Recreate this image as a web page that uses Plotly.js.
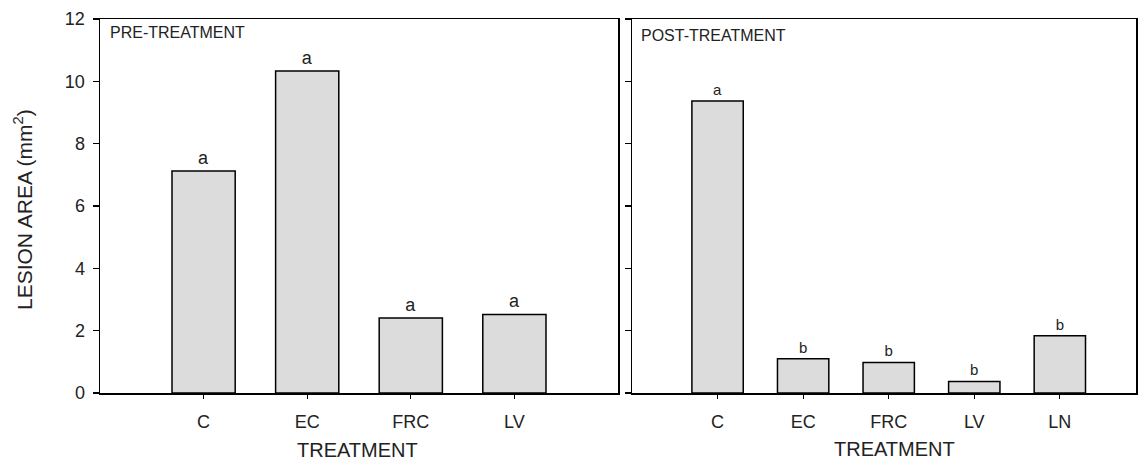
<!DOCTYPE html>
<html>
<head>
<meta charset="utf-8">
<script src="https://cdn.plot.ly/plotly-3.0.1.min.js"></script>
<style>html,body{margin:0;padding:0;background:#fff;}#chart{width:1144px;height:465px;}</style>
</head>
<body>
<div id="chart"></div>
<script>
const categoriesPre = ["C", "EC", "FRC", "LV"];
const valuesPre = [7.12, 10.33, 2.41, 2.52];
const lettersPre = ["a", "a", "a", "a"];

const categoriesPost = ["C", "EC", "FRC", "LV", "LN"];
const valuesPost = [9.37, 1.10, 0.98, 0.37, 1.84];
const lettersPost = ["a", "b", "b", "b", "b"];

const yTicks = [0, 2, 4, 6, 8, 10, 12];
const yTickLabels = ["0", "2", "4", "6", "8", "10", "12"];

const FONT = "Liberation Sans, Arial, sans-serif";
const TXT = "#222";

const barStyle = {
  color: "#dcdcdc",
  line: {color: "#000", width: 1.5}
};

const traces = [
  {
    type: "bar", x: categoriesPre, y: valuesPre, text: lettersPre,
    textposition: "outside", cliponaxis: false, constraintext: "none",
    textfont: {family: FONT, size: 18, color: TXT},
    marker: barStyle, width: 0.61, xaxis: "x", yaxis: "y",
    hoverinfo: "x+y"
  },
  {
    type: "bar", x: categoriesPost, y: valuesPost, text: lettersPost,
    textposition: "outside", cliponaxis: false, constraintext: "none",
    textfont: {family: FONT, size: 15, color: TXT},
    marker: barStyle, width: 0.6, xaxis: "x2", yaxis: "y2",
    hoverinfo: "x+y"
  }
];

const axisCommon = {
  showline: true, linecolor: "#000", linewidth: 1.5, mirror: true,
  ticks: "outside", ticklen: 6, tickwidth: 1.2, tickcolor: "#000",
  showgrid: false, zeroline: false, fixedrange: true
};

const layout = {
  width: 1144, height: 465,
  margin: {l: 0, r: 0, t: 0, b: 0},
  paper_bgcolor: "#fff", plot_bgcolor: "#fff",
  showlegend: false,
  font: {family: FONT, color: TXT},
  xaxis: Object.assign({}, axisCommon, {
    domain: [100/1144, 618/1144], anchor: "y",
    type: "category", categoryorder: "array", categoryarray: categoriesPre,
    range: [-1, 4], ticklen: 4, ticklabelstandoff: 8,
    tickfont: {family: FONT, size: 18, color: TXT}
  }),
  yaxis: Object.assign({}, axisCommon, {
    domain: [72/465, 446/465], anchor: "x",
    range: [0, 12], tickvals: yTicks, ticktext: yTickLabels,
    tickfont: {family: FONT, size: 18, color: TXT}, ticklabelstandoff: 4
  }),
  xaxis2: Object.assign({}, axisCommon, {
    domain: [632/1144, 1136/1144], anchor: "y2",
    type: "category", categoryorder: "array", categoryarray: categoriesPost,
    range: [-1, 4.89], ticklen: 4, ticklabelstandoff: 8,
    tickfont: {family: FONT, size: 18, color: TXT}
  }),
  yaxis2: Object.assign({}, axisCommon, {
    domain: [72/465, 446/465], anchor: "x2",
    range: [0, 12], tickvals: yTicks, showticklabels: false
  }),
  annotations: [
    {text: "LESION AREA (mm<sup>2</sup>)", xref: "paper", yref: "paper",
     x: 23/1144, y: 1 - 210/465, textangle: -90, showarrow: false,
     xanchor: "center", yanchor: "middle",
     font: {family: FONT, size: 21, color: TXT}},
    {text: "TREATMENT", xref: "paper", yref: "paper",
     x: 357/1144, y: 1 - 450/465, showarrow: false,
     xanchor: "center", yanchor: "middle",
     font: {family: FONT, size: 20, color: TXT}},
    {text: "TREATMENT", xref: "paper", yref: "paper",
     x: 895/1144, y: 1 - 449/465, showarrow: false,
     xanchor: "center", yanchor: "middle",
     font: {family: FONT, size: 20, color: TXT}},
    {text: "PRE-TREATMENT", xref: "paper", yref: "paper",
     x: 108/1144, y: 1 - 33/465, showarrow: false,
     xanchor: "left", yanchor: "middle",
     font: {family: FONT, size: 16, color: TXT}},
    {text: "POST-TREATMENT", xref: "paper", yref: "paper",
     x: 639/1144, y: 1 - 35/465, showarrow: false,
     xanchor: "left", yanchor: "middle",
     font: {family: FONT, size: 16, color: TXT}}
  ]
};

Plotly.newPlot("chart", traces, layout, {displayModeBar: false, staticPlot: true});
</script>
</body>
</html>
